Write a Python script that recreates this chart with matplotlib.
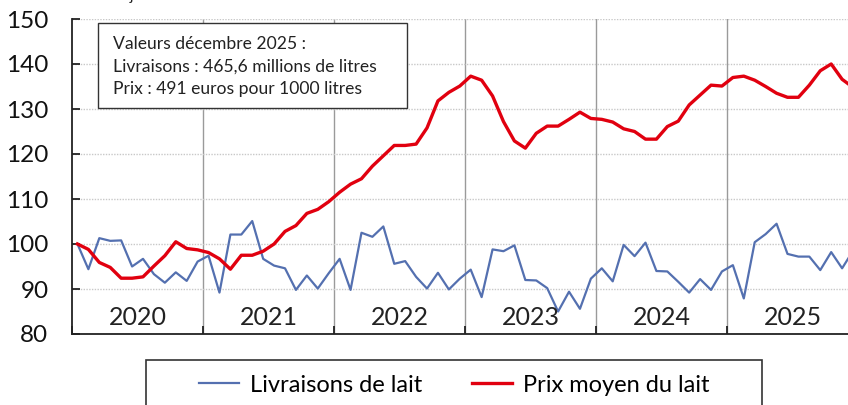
import numpy as np
import matplotlib.pyplot as plt
from matplotlib.patches import Rectangle

plt.rcParams['font.family'] = ['Lato', 'DejaVu Sans']

# monthly index, base 100 = janvier 2020
years = ["2020", "2021", "2022", "2023", "2024", "2025"]

livraisons = [
    100.0, 94.4, 101.3, 100.7, 100.8, 95.0, 96.7, 93.3, 91.4, 93.7, 91.8, 96.1,
    97.4, 89.2, 102.1, 102.1, 105.1, 96.7, 95.2, 94.6, 89.8, 93.0, 90.1, 93.5,
    96.7, 89.8, 102.5, 101.6, 103.9, 95.6, 96.2, 92.7, 90.1, 93.6, 89.9, 92.3,
    94.3, 88.2, 98.8, 98.4, 99.7, 92.0, 91.9, 90.2, 85.0, 89.4, 85.6, 92.3,
    94.6, 91.7, 99.8, 97.3, 100.3, 94.0, 93.9, 91.6, 89.2, 92.2, 89.8, 93.9,
    95.3, 87.9, 100.4, 102.2, 104.5, 97.8, 97.2, 97.2, 94.2, 98.2, 94.6, 98.5,
]

prix = [
    100.0, 98.8, 95.9, 94.8, 92.4, 92.4, 92.7, 95.1, 97.4, 100.5, 99.0, 98.7,
    98.1, 96.7, 94.4, 97.5, 97.5, 98.4, 100.0, 102.8, 104.1, 106.8, 107.7, 109.4,
    111.5, 113.3, 114.5, 117.3, 119.6, 121.9, 121.9, 122.2, 125.8, 131.8, 133.7, 135.1,
    137.3, 136.4, 132.9, 127.2, 122.9, 121.3, 124.6, 126.2, 126.2, 127.7, 129.3, 127.9,
    127.7, 127.1, 125.6, 125.0, 123.3, 123.3, 126.1, 127.3, 130.9, 133.1, 135.3, 135.1,
    137.0, 137.3, 136.4, 135.0, 133.5, 132.6, 132.6, 135.3, 138.5, 140.0, 136.6, 134.8,
]

blue = "#5470B0"
red = "#E1000F"

fig = plt.figure(figsize=(8.48, 4.05), dpi=100)
ax = fig.add_axes([72 / 848, 71 / 405, 786.5 / 848, 315 / 405])

x = np.arange(len(livraisons)) + 0.5
ax.plot(x, livraisons, color=blue, lw=1.6, label="Livraisons de lait", zorder=3)
ax.plot(x, prix, color=red, lw=2.4, label="Prix moyen du lait", zorder=4)

ax.set_xlim(0, 72)
ax.set_ylim(80, 150)
ax.set_yticks(range(80, 151, 10))
ax.set_xticks(range(0, 73, 12))
ax.set_xticklabels([])

ax.yaxis.grid(True, color="#c8c8c8", linestyle=(0, (1, 1)), lw=1)
for k in range(1, 6):
    ax.axvline(12 * k, color="#9a9a9a", lw=1, zorder=1)

for k, yr in enumerate(years):
    ax.text(12 * k + 6, 83.6, yr, ha="center", va="center", fontsize=18, color="#222222")

for side in ["top", "right"]:
    ax.spines[side].set_visible(False)
for side in ["left", "bottom"]:
    ax.spines[side].set_color("#222222")
    ax.spines[side].set_linewidth(1.3)
ax.tick_params(axis="both", direction="in", length=6, width=1.3, color="#222222",
               labelsize=17.5, labelcolor="#111111")
ax.tick_params(axis="y", pad=17)

# cut-off title at the very top
fig.text(0.0, 1.0, "Indice base 100 en janvier 2020", fontsize=11,
         va="baseline", ha="left", color="#222222")

# annotation box
fig.patches.append(Rectangle((98 / 848, 1 - 108 / 405), 309 / 848, 85 / 405,
                             transform=fig.transFigure, facecolor="white",
                             edgecolor="#333333", lw=1, zorder=5))
notes = ["Valeurs décembre 2025 :",
         "Livraisons : 465,6 millions de litres",
         "Prix : 491 euros pour 1000 litres"]
for j, t in enumerate(notes):
    fig.text(113 / 848, 1 - (49 + 22.5 * j) / 405, t, fontsize=12.6, va="baseline",
             color="#222222", zorder=6)

# legend box (runs past the bottom edge)
fig.patches.append(Rectangle((146 / 848, -0.1), 616 / 848, 0.1 + 45 / 405,
                             transform=fig.transFigure, facecolor="white",
                             edgecolor="#333333", lw=1.2, zorder=5))
fig.legend(loc="center", bbox_to_anchor=(454.5 / 848, 20 / 405), ncol=2,
           frameon=False, fontsize=17, handlelength=1.7, handletextpad=0.47,
           columnspacing=2.1)

fig.savefig("out.png", dpi=100)
